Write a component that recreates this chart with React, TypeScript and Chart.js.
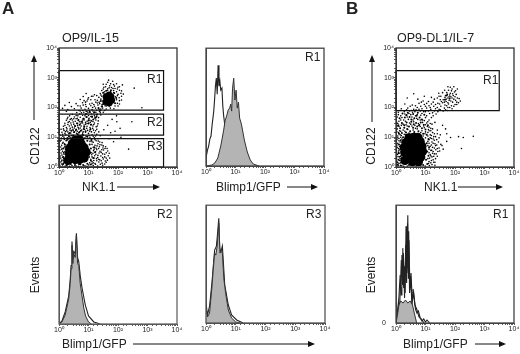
import React, { useEffect, useRef } from "react";
import { Chart, registerables } from "chart.js";
Chart.register(...registerables);

const FONT = '"Liberation Sans", Arial, sans-serif';
const decadeLabels = ["10⁰", "10¹", "10²", "10³", "10⁴"];

// Dot plots: positions in hundredths of a decade, [NK1.1, CD122].
const a1Core = [[40,30],[55,25],[70,25],[85,30],[35,45],[50,45],[65,45],[80,45],[92,50],[36,62],[52,62],[68,62],[85,65],[45,78],[60,80],[75,78],[55,90],[70,92],[30,22]];
const a1ClusterCore = [[168,228],[160,220],[176,236],[170,216],[160,236],[178,224],[170,242]];
const a1Mid = [[14,10],[26,6],[40,10],[54,7],[68,9],[82,7],[96,11],[108,8],[20,20],[108,22],[14,34],[102,34],[116,30],[16,48],[108,48],[122,50],[14,62],[108,62],[120,66],[20,76],[104,76],[26,90],[96,88],[110,90],[34,102],[48,106],[64,110],[80,108],[96,102],[42,122],[58,126],[74,122],[90,120],[106,126],[54,138],[70,142],[86,136],[100,146],[66,158],[84,162],[100,156],[112,170],[92,178],[120,184],[134,198],[146,204],[140,190],[125,166],[36,114],[52,118],[68,116],[84,128],[62,146],[78,152],[94,168],[108,142],[116,160],[128,176],[104,186],[150,212],[142,222],[190,214],[194,232],[186,250],[150,250],[160,256],[176,258]];
const a1Fine = [[3,4],[12,7],[21,3],[30,8],[44,5],[58,3],[73,8],[88,4],[101,7],[116,5],[131,3],[148,6],[6,17],[15,13],[26,18],[104,14],[112,18],[122,12],[135,17],[146,13],[160,16],[2,27],[10,23],[19,28],[108,26],[118,22],[127,28],[138,24],[150,27],[164,23],[4,37],[13,33],[22,36],[112,34],[121,38],[131,32],[142,37],[155,34],[167,38],[7,47],[17,43],[26,48],[115,46],[125,43],[136,47],[148,44],[160,48],[3,57],[12,53],[22,58],[117,55],[128,58],[139,53],[151,57],[165,54],[6,67],[16,63],[25,68],[116,66],[126,63],[137,68],[149,64],[158,68],[9,73],[18,78],[28,75],[112,76],[122,73],[132,78],[145,74],[4,87],[14,83],[24,88],[34,84],[105,86],[116,83],[126,88],[138,84],[8,97],[18,93],[28,98],[38,94],[100,96],[110,93],[120,98],[132,95],[3,107],[13,103],[23,108],[33,104],[43,106],[52,103],[62,108],[72,104],[82,107],[92,103],[102,106],[112,108],[124,104],[10,117],[20,113],[30,118],[40,114],[50,117],[60,113],[70,118],[80,114],[90,117],[100,113],[110,118],[120,115],[135,118],[7,127],[17,123],[27,128],[37,124],[47,127],[57,123],[67,128],[77,124],[87,127],[97,123],[107,128],[117,124],[128,127],[15,137],[25,133],[35,138],[45,134],[55,137],[65,133],[75,138],[85,134],[95,137],[105,133],[115,138],[126,135],[20,147],[30,143],[40,148],[50,144],[60,147],[70,143],[80,148],[90,144],[100,147],[110,143],[120,148],[132,145],[25,157],[35,153],[45,158],[55,154],[65,157],[75,153],[85,158],[95,154],[105,157],[115,153],[125,158],[30,167],[42,163],[52,168],[62,164],[72,167],[82,163],[92,168],[102,164],[112,167],[122,163],[134,166],[45,177],[58,173],[70,178],[80,174],[90,177],[100,173],[110,178],[120,174],[130,177],[142,175],[25,187],[60,183],[72,188],[84,184],[95,187],[105,183],[115,188],[125,184],[137,187],[150,184],[12,197],[30,193],[52,196],[75,198],[88,194],[100,197],[112,193],[124,198],[136,194],[148,198],[160,195],[20,207],[42,203],[64,206],[82,208],[92,203],[108,206],[120,204],[132,208],[144,203],[156,206],[170,204],[35,217],[58,213],[80,216],[90,218],[112,214],[125,218],[138,213],[150,216],[198,214],[190,205],[72,227],[85,223],[98,228],[130,224],[142,228],[195,226],[205,223],[82,237],[100,233],[115,238],[135,234],[145,238],[192,236],[204,233],[212,238],[92,247],[120,243],[140,247],[150,250],[188,248],[200,244],[210,248],[145,257],[155,253],[165,258],[175,254],[185,257],[195,253],[205,258],[152,268],[165,263],[178,267],[190,264],[200,268],[255,265],[160,278],[172,273],[185,277],[195,280],[215,276],[165,285],[281,199],[247,152],[236,60],[207,130],[196,152],[190,120],[175,115],[185,85],[170,95],[152,125],[210,100],[165,140],[180,160],[195,172]];
const a1Fill = [[8,10],[36,2],[66,2],[95,2],[124,9],[140,9],[155,10],[9,20],[17,22],[112,11],[128,21],[143,21],[157,20],[6,30],[16,28],[111,41],[116,14],[134,26],[148,32],[160,30],[10,40],[20,52],[119,30],[132,39],[143,49],[155,43],[172,30],[9,60],[19,67],[124,51],[134,62],[145,58],[156,62],[170,46],[12,80],[21,70],[119,60],[129,71],[139,75],[150,71],[163,62],[7,90],[17,100],[30,92],[40,100],[112,85],[122,92],[133,87],[146,82],[12,110],[22,119],[33,112],[46,100],[58,98],[74,98],[88,98],[105,100],[116,103],[128,110],[140,105],[15,128],[26,122],[38,130],[48,123],[62,120],[72,131],[82,118],[94,130],[104,120],[114,130],[124,122],[20,140],[31,150],[42,141],[52,131],[63,139],[74,147],[85,141],[95,146],[106,150],[118,143],[130,138],[28,162],[38,160],[48,151],[58,162],[69,152],[80,158],[90,150],[101,161],[110,155],[121,168],[133,155],[36,172],[50,162],[64,172],[76,182],[88,172],[98,182],[108,170],[118,182],[128,170],[140,182],[68,190],[80,190],[92,187],[102,190],[114,200],[128,191],[142,195],[155,190],[72,205],[90,210],[104,212],[118,210],[130,215],[146,210],[160,205],[174,198],[186,196],[200,205],[95,222],[108,226],[122,226],[136,218],[148,222],[205,212],[212,225],[110,238],[128,240],[142,242],[155,245],[198,240],[218,245],[150,262],[170,266],[183,264],[198,262],[212,256],[158,270],[175,280],[188,272],[205,270],[168,292],[182,288],[150,278]];

const b1Core = [[38,35],[52,30],[68,30],[84,34],[30,50],[45,48],[60,48],[76,50],[90,52],[28,66],[44,66],[60,66],[76,68],[88,70],[34,82],[50,84],[66,84],[82,86],[44,98],[60,100],[74,100],[30,22],[56,18],[76,18]];
const b1Mid = [[6,8],[16,5],[30,10],[44,7],[60,6],[76,9],[92,7],[106,10],[8,24],[16,36],[102,24],[110,38],[8,46],[14,60],[106,52],[112,66],[10,76],[16,90],[104,80],[110,94],[24,100],[20,114],[34,116],[48,120],[62,118],[76,120],[92,112],[104,108],[14,130],[28,132],[44,136],[58,132],[72,136],[88,130],[100,126],[20,148],[36,150],[52,152],[68,148],[84,150],[12,164],[30,166],[46,168],[62,164],[80,166],[22,180],[40,182],[58,178],[74,182],[96,176],[10,112],[8,140],[38,128],[60,144],[78,140],[94,142],[28,140],[52,160],[70,172],[88,160],[36,175],[108,140],[172,240],[182,230],[166,226]];
const b1Fine = [[3,3],[10,12],[20,4],[24,14],[38,3],[52,5],[68,3],[84,4],[99,3],[113,5],[122,8],[132,6],[3,18],[12,22],[21,20],[112,18],[120,22],[128,16],[2,30],[12,34],[20,31],[114,30],[122,34],[134,28],[5,42],[13,46],[22,44],[116,42],[124,46],[136,44],[2,54],[10,56],[20,58],[118,56],[126,52],[135,58],[148,54],[4,66],[12,70],[22,68],[116,70],[124,66],[134,72],[146,64],[6,80],[14,84],[24,76],[112,80],[122,84],[132,78],[144,84],[156,72],[3,92],[10,96],[20,94],[112,92],[120,96],[130,90],[146,98],[6,104],[14,108],[28,110],[38,108],[108,104],[116,108],[128,102],[140,112],[3,118],[12,122],[24,124],[40,126],[54,110],[68,112],[84,116],[100,118],[112,122],[124,116],[5,138],[18,140],[34,142],[50,144],[64,140],[80,142],[94,138],[106,136],[118,130],[2,150],[10,154],[26,158],[42,160],[58,158],[74,160],[90,158],[104,148],[116,146],[4,168],[16,172],[34,174],[50,176],[66,172],[84,174],[100,166],[112,158],[8,184],[28,186],[46,188],[64,186],[82,188],[100,186],[114,180],[126,172],[18,196],[40,198],[60,194],[72,200],[88,196],[104,198],[118,194],[130,188],[142,186],[150,192],[160,188],[174,190],[30,212],[55,208],[78,214],[96,210],[112,206],[128,204],[140,200],[152,204],[164,198],[176,200],[190,196],[38,232],[74,228],[92,222],[110,220],[126,218],[142,214],[150,226],[158,216],[166,208],[178,212],[188,206],[200,210],[60,246],[96,238],[120,234],[140,232],[152,238],[160,226],[170,220],[180,224],[192,218],[202,224],[212,216],[145,248],[158,250],[166,234],[176,232],[186,236],[196,228],[208,232],[218,222],[165,258],[174,244],[184,248],[194,240],[204,244],[178,258],[188,256],[198,252],[208,262],[184,268],[196,270],[180,236],[170,228],[164,218],[192,246],[206,210],[212,102],[185,99],[262,103],[228,99],[222,62],[172,112],[168,128],[158,140],[140,124],[150,108],[172,86],[160,60]];
const b1Fill = [[8,4],[15,14],[26,2],[6,15],[14,28],[25,26],[110,12],[118,14],[126,24],[132,16],[7,35],[18,40],[108,28],[118,38],[128,36],[140,36],[9,50],[17,52],[112,48],[121,56],[130,44],[142,52],[8,62],[18,74],[112,60],[120,74],[130,64],[140,62],[3,74],[10,88],[20,84],[108,72],[126,80],[138,74],[152,76],[6,98],[16,100],[30,96],[108,86],[116,98],[126,94],[138,92],[9,116],[18,106],[32,108],[46,110],[62,106],[76,110],[92,104],[100,98],[120,106],[134,102],[4,128],[16,120],[30,120],[44,114],[58,124],[72,128],[88,122],[98,112],[108,116],[118,122],[130,112],[10,136],[24,144],[38,138],[54,138],[66,130],[82,136],[96,132],[110,126],[124,128],[6,146],[16,158],[32,154],[46,148],[60,152],[76,146],[90,150],[100,142],[112,134],[8,176],[20,166],[38,168],[54,168],[70,164],[82,158],[96,156],[108,152],[122,144],[14,190],[30,178],[44,180],[56,184],[72,176],[88,180],[104,172],[120,166],[132,150],[36,192],[52,190],[68,192],[78,194],[94,186],[110,188],[124,182],[136,178],[48,204],[66,206],[84,204],[100,204],[116,200],[134,196],[146,194],[168,192],[182,200],[86,218],[104,214],[120,212],[134,210],[148,212],[172,206],[196,204],[154,220],[176,216],[186,222],[206,218],[130,228],[146,238],[168,240],[190,232],[214,230],[172,250],[182,242],[200,236],[190,262],[202,256],[176,270]];

// Analysis gates: corners of each rectangle, as NK1.1 and CD122 intensities.
const gateA1X = [1, 3500, 3500, 1, 1];
const gateA1Y = [81, 81, 1740, 1740, 81];
const gateA2X = [1, 3500, 3500, 1, 1];
const gateA2Y = [11.7, 11.7, 60, 60, 11.7];
const gateA3X = [1, 3500, 3500, 1, 1];
const gateA3Y = [1, 1, 9, 9, 1];
const gateBX = [1, 3160, 3160, 1, 1];
const gateBY = [78, 78, 1740, 1740, 78];

// Histograms: position in decades, height in events.
const r1ShadedX = [0,.2,.3,.4,.45,.5,.55,.6,.65,.7,.75,.8,.84,.87,.9,.94,.98,1.02,1.06,1.1,1.14,1.2,1.3,1.4,1.5,1.6,1.8];
const r1ShadedY = [0,1,3,8,14,20,28,36,46,50,56,58,62,55,78,88,66,76,58,64,48,42,26,14,6,2,0];
const r1OpenX = [0,.05,.09,.13,.17,.21,.26,.29,.32,.35,.38,.41,.44,.47,.5,.54,.57,.6,.65,.71,.82,.99,1.16];
const r1OpenY = [8,16,20,27,30,42,54,66,80,88,72,101,80,85,76,78,60,50,38,28,13,3,0];
const r2ShadedX = [0,.1,.21,.33,.38,.41,.44,.47,.5,.55,.59,.63,.67,.72,.78,.84,.9,1.0,1.1];
const r2ShadedY = [0,2,9,25,40,55,78,60,70,66,88,60,58,40,28,16,8,2,0];
const r2OpenX = [0,.1,.21,.33,.38,.41,.44,.47,.5,.55,.59,.63,.67,.72,.78,.89,1.0,1.18,1.4];
const r2OpenY = [0,3,12,28,44,58,82,64,72,70,90,66,62,48,36,19,8,2,0];
const r3ShadedX = [0,.05,.12,.2,.24,.29,.33,.38,.43,.47,.5,.55,.6,.66,.75,.86,1.0,1.15];
const r3ShadedY = [15,6,10,36,52,70,68,78,100,70,72,70,44,30,13,5,1,0];
const r3OpenX = [0,.05,.12,.2,.24,.29,.35,.39,.43,.46,.49,.55,.63,.75,.86,1.03,1.25];
const r3OpenY = [20,8,17,40,55,73,77,90,105,76,70,77,38,18,8,3,0];
const b2ShadedX = [0,.05,.1,.16,.24,.32,.4,.48,.56,.62,.7];
const b2ShadedY = [0,8,18,22,20,23,20,22,18,10,0];
const b2OpenAX = [0,.05,.09,.12,.15,.18,.21,.23,.26,.28,.31,.34,.37,.4,.42,.44,.47,.51,.55,.6,.66,.71,.76,.82,.88,.94,1.0,1.05,1.14];
const b2OpenAY = [3,8,20,14,37,63,40,75,35,57,30,97,50,108,45,83,35,50,22,30,14,10,12,5,2,4,1,3,0];
const b2OpenBX = [0,.06,.1,.14,.17,.2,.22,.25,.29,.33,.36,.39,.41,.43,.46,.5,.54,.58,.64,.7,.78,.86,.95];
const b2OpenBY = [0,14,26,48,28,68,38,70,25,78,40,100,55,92,30,44,18,34,18,14,6,4,0];

const decade = (v: number) => Math.pow(10, v);
const dots = (pts: number[][]) => pts.map(([x, y]) => ({ x: decade(x / 100), y: decade(y / 100) }));
const zip = (xs: number[], ys: number[]) => xs.map((x, i) => ({ x, y: ys[i] }));
const curve = (xs: number[], ys: number[]) => xs.map((x, i) => ({ x: decade(x), y: ys[i] }));

const dotSet = (pts: number[][], r: number, c = "#000") => ({ data: dots(pts), pointRadius: r, pointBackgroundColor: c, pointBorderWidth: 0, showLine: false });
const gateSet = (xs: number[], ys: number[]) => ({ data: zip(xs, ys), showLine: true, pointRadius: 0, borderColor: "#111", borderWidth: 1.2, fill: false, clip: false });
const shaded = (xs: number[], ys: number[]) => ({ data: curve(xs, ys), showLine: true, pointRadius: 0, borderColor: "#333", borderWidth: 1, backgroundColor: "#b4b4b4", fill: "origin" });
const open = (xs: number[], ys: number[], w = 1) => ({ data: curve(xs, ys), showLine: true, pointRadius: 0, borderColor: "#222", borderWidth: w, fill: false });

type Panel = { left: number; top: number; w: number; h: number; kind: "dot" | "hist"; zeroLabel?: boolean; frameColor: string; datasets: any[] };

const panels: Panel[] = [
  { left: 59, top: 48, w: 118, h: 119, kind: "dot", frameColor: "#333", datasets: [gateSet(gateA1X, gateA1Y), gateSet(gateA2X, gateA2Y), gateSet(gateA3X, gateA3Y), dotSet(a1Core, 4.6), dotSet(a1ClusterCore, 3.6), dotSet(a1Mid, 1), dotSet(a1Fine, 0.8), dotSet(a1Fill, 0.8)] },
  { left: 206, top: 48, w: 118, h: 118, kind: "hist", frameColor: "#444", datasets: [shaded(r1ShadedX, r1ShadedY), open(r1OpenX, r1OpenY, 1.1)] },
  { left: 396, top: 48, w: 118, h: 119, kind: "dot", frameColor: "#333", datasets: [gateSet(gateBX, gateBY), dotSet(b1Core, 4.6), dotSet(b1Mid, 1), dotSet(b1Fine, 0.8), dotSet(b1Fill, 0.8)] },
  { left: 59, top: 205, w: 118, h: 119, kind: "hist", frameColor: "#666", datasets: [shaded(r2ShadedX, r2ShadedY), open(r2OpenX, r2OpenY, 1.1)] },
  { left: 206, top: 205, w: 119, h: 118, kind: "hist", frameColor: "#555", datasets: [shaded(r3ShadedX, r3ShadedY), open(r3OpenX, r3OpenY, 1.1)] },
  { left: 396, top: 205, w: 118, h: 118, kind: "hist", frameColor: "#444", zeroLabel: true, datasets: [shaded(b2ShadedX, b2ShadedY), open(b2OpenAX, b2OpenAY, 1.1), open(b2OpenBX, b2OpenBY, 1.1)] },
];

const PAD_L = 20, PAD_R = 8, PAD_T = 6, PAD_B = 16;

const frame = {
  id: "frame",
  afterDatasetsDraw(chart: any, _args: any, opts: any) {
    const { ctx, chartArea: a } = chart;
    ctx.save();
    ctx.strokeStyle = opts.color;
    ctx.lineWidth = 1.3;
    ctx.strokeRect(a.left, a.top, a.right - a.left, a.bottom - a.top);
    ctx.restore();
  },
};

const powerLabel = (v: number) => {
  const i = [1, 10, 100, 1000, 10000].indexOf(Number(v));
  return i >= 0 ? decadeLabels[i] : "";
};

function options(p: Panel) {
  const tickStyle = { font: { size: 7, family: FONT }, color: "#222", autoSkip: false, maxRotation: 0, padding: 0 };
  const grid = { drawOnChartArea: false, tickLength: 2, color: "#333", lineWidth: 0.8 };
  const y =
    p.kind === "dot"
      ? { type: "logarithmic", min: 1, max: 10000, grid, border: { color: "#444" }, ticks: { ...tickStyle, callback: powerLabel }, afterFit: (s: any) => { s.width = PAD_L; } }
      : { type: "linear", min: 0, max: 118, grid: { display: false }, border: { color: "#444" }, ticks: { ...tickStyle, padding: 2, stepSize: 118, callback: (v: number) => (p.zeroLabel && v === 0 ? "0" : "") }, afterFit: (s: any) => { s.width = PAD_L; } };
  return {
    responsive: false,
    animation: false,
    parsing: false,
    normalized: true,
    layout: { padding: { left: 0, right: PAD_R, top: PAD_T, bottom: 0 } },
    plugins: { legend: { display: false }, tooltip: { enabled: false }, title: { display: false }, frame: { color: p.frameColor } },
    scales: {
      x: { type: "logarithmic", min: 1, max: 10000, grid, border: { color: "#444" }, ticks: { ...tickStyle, callback: powerLabel }, afterFit: (s: any) => { s.height = PAD_B; } },
      y,
    },
  };
}

function PanelChart({ p }: { p: Panel }) {
  const ref = useRef<HTMLCanvasElement>(null);
  useEffect(() => {
    const chart = new Chart(ref.current!, { type: "scatter", data: { datasets: p.datasets }, options: options(p) as any, plugins: [frame] });
    return () => chart.destroy();
  }, [p]);
  return (
    <canvas
      ref={ref}
      width={p.w + PAD_L + PAD_R}
      height={p.h + PAD_T + PAD_B}
      style={{ position: "absolute", left: p.left - PAD_L, top: p.top - PAD_T, width: p.w + PAD_L + PAD_R, height: p.h + PAD_T + PAD_B }}
    />
  );
}

function Label({ x, y, text, size = 12, bold = false, rot = false }: { x: number; y: number; text: string; size?: number; bold?: boolean; rot?: boolean }) {
  return (
    <div
      style={{
        position: "absolute",
        left: x,
        top: y,
        transform: rot ? "translate(-50%,-50%) rotate(-90deg)" : "translateY(-50%)",
        fontFamily: FONT,
        fontSize: size,
        fontWeight: bold ? 700 : 400,
        color: "#222",
        whiteSpace: "nowrap",
        lineHeight: 1,
      }}
    >
      {text}
    </div>
  );
}

const hArrows = [[117, 160, 187], [287, 318, 187], [133, 315, 344], [475, 506, 344], [458, 503, 187]];
const vArrows = [[34, 120, 55], [372, 122, 55]];

export default function App() {
  return (
    <div style={{ position: "fixed", left: 0, top: 0, width: 520, height: 354, background: "#fff", overflow: "hidden" }}>
      {panels.map((p, i) => <PanelChart key={i} p={p} />)}
      <svg width={520} height={354} style={{ position: "absolute", left: 0, top: 0 }}>
        {hArrows.map(([a, b, y], i) => (
          <g key={i}>
            <line x1={a} y1={y} x2={b - 5} y2={y} stroke="#111" strokeWidth={1} />
            <polygon points={`${b - 7},${y - 3} ${b},${y} ${b - 7},${y + 3}`} fill="#111" />
          </g>
        ))}
        {vArrows.map(([x, a, b], i) => (
          <g key={i}>
            <line x1={x} y1={a} x2={x} y2={b + 5} stroke="#111" strokeWidth={1} />
            <polygon points={`${x - 3},${b + 7} ${x},${b} ${x + 3},${b + 7}`} fill="#111" />
          </g>
        ))}
      </svg>
      <Label x={2} y={8} text="A" size={17} bold />
      <Label x={346} y={8} text="B" size={17} bold />
      <Label x={62} y={38} text="OP9/IL-15" size={12.5} />
      <Label x={397} y={38} text="OP9-DL1/IL-7" size={12.5} />
      <Label x={35} y={146} text="CD122" rot />
      <Label x={371} y={146} text="CD122" rot />
      <Label x={35} y={275} text="Events" rot />
      <Label x={371} y={275} text="Events" rot />
      <Label x={82} y={187} text="NK1.1" />
      <Label x={424} y={187} text="NK1.1" />
      <Label x={216} y={187} text="Blimp1/GFP" />
      <Label x={62} y={344} text="Blimp1/GFP" />
      <Label x={403} y={344} text="Blimp1/GFP" />
      <Label x={147} y={79} text="R1" />
      <Label x={147} y={122} text="R2" />
      <Label x={147} y={146} text="R3" />
      <Label x={305} y={57} text="R1" />
      <Label x={483} y={80} text="R1" />
      <Label x={157} y={214} text="R2" />
      <Label x={306} y={214} text="R3" />
      <Label x={493} y={214} text="R1" />
    </div>
  );
}
